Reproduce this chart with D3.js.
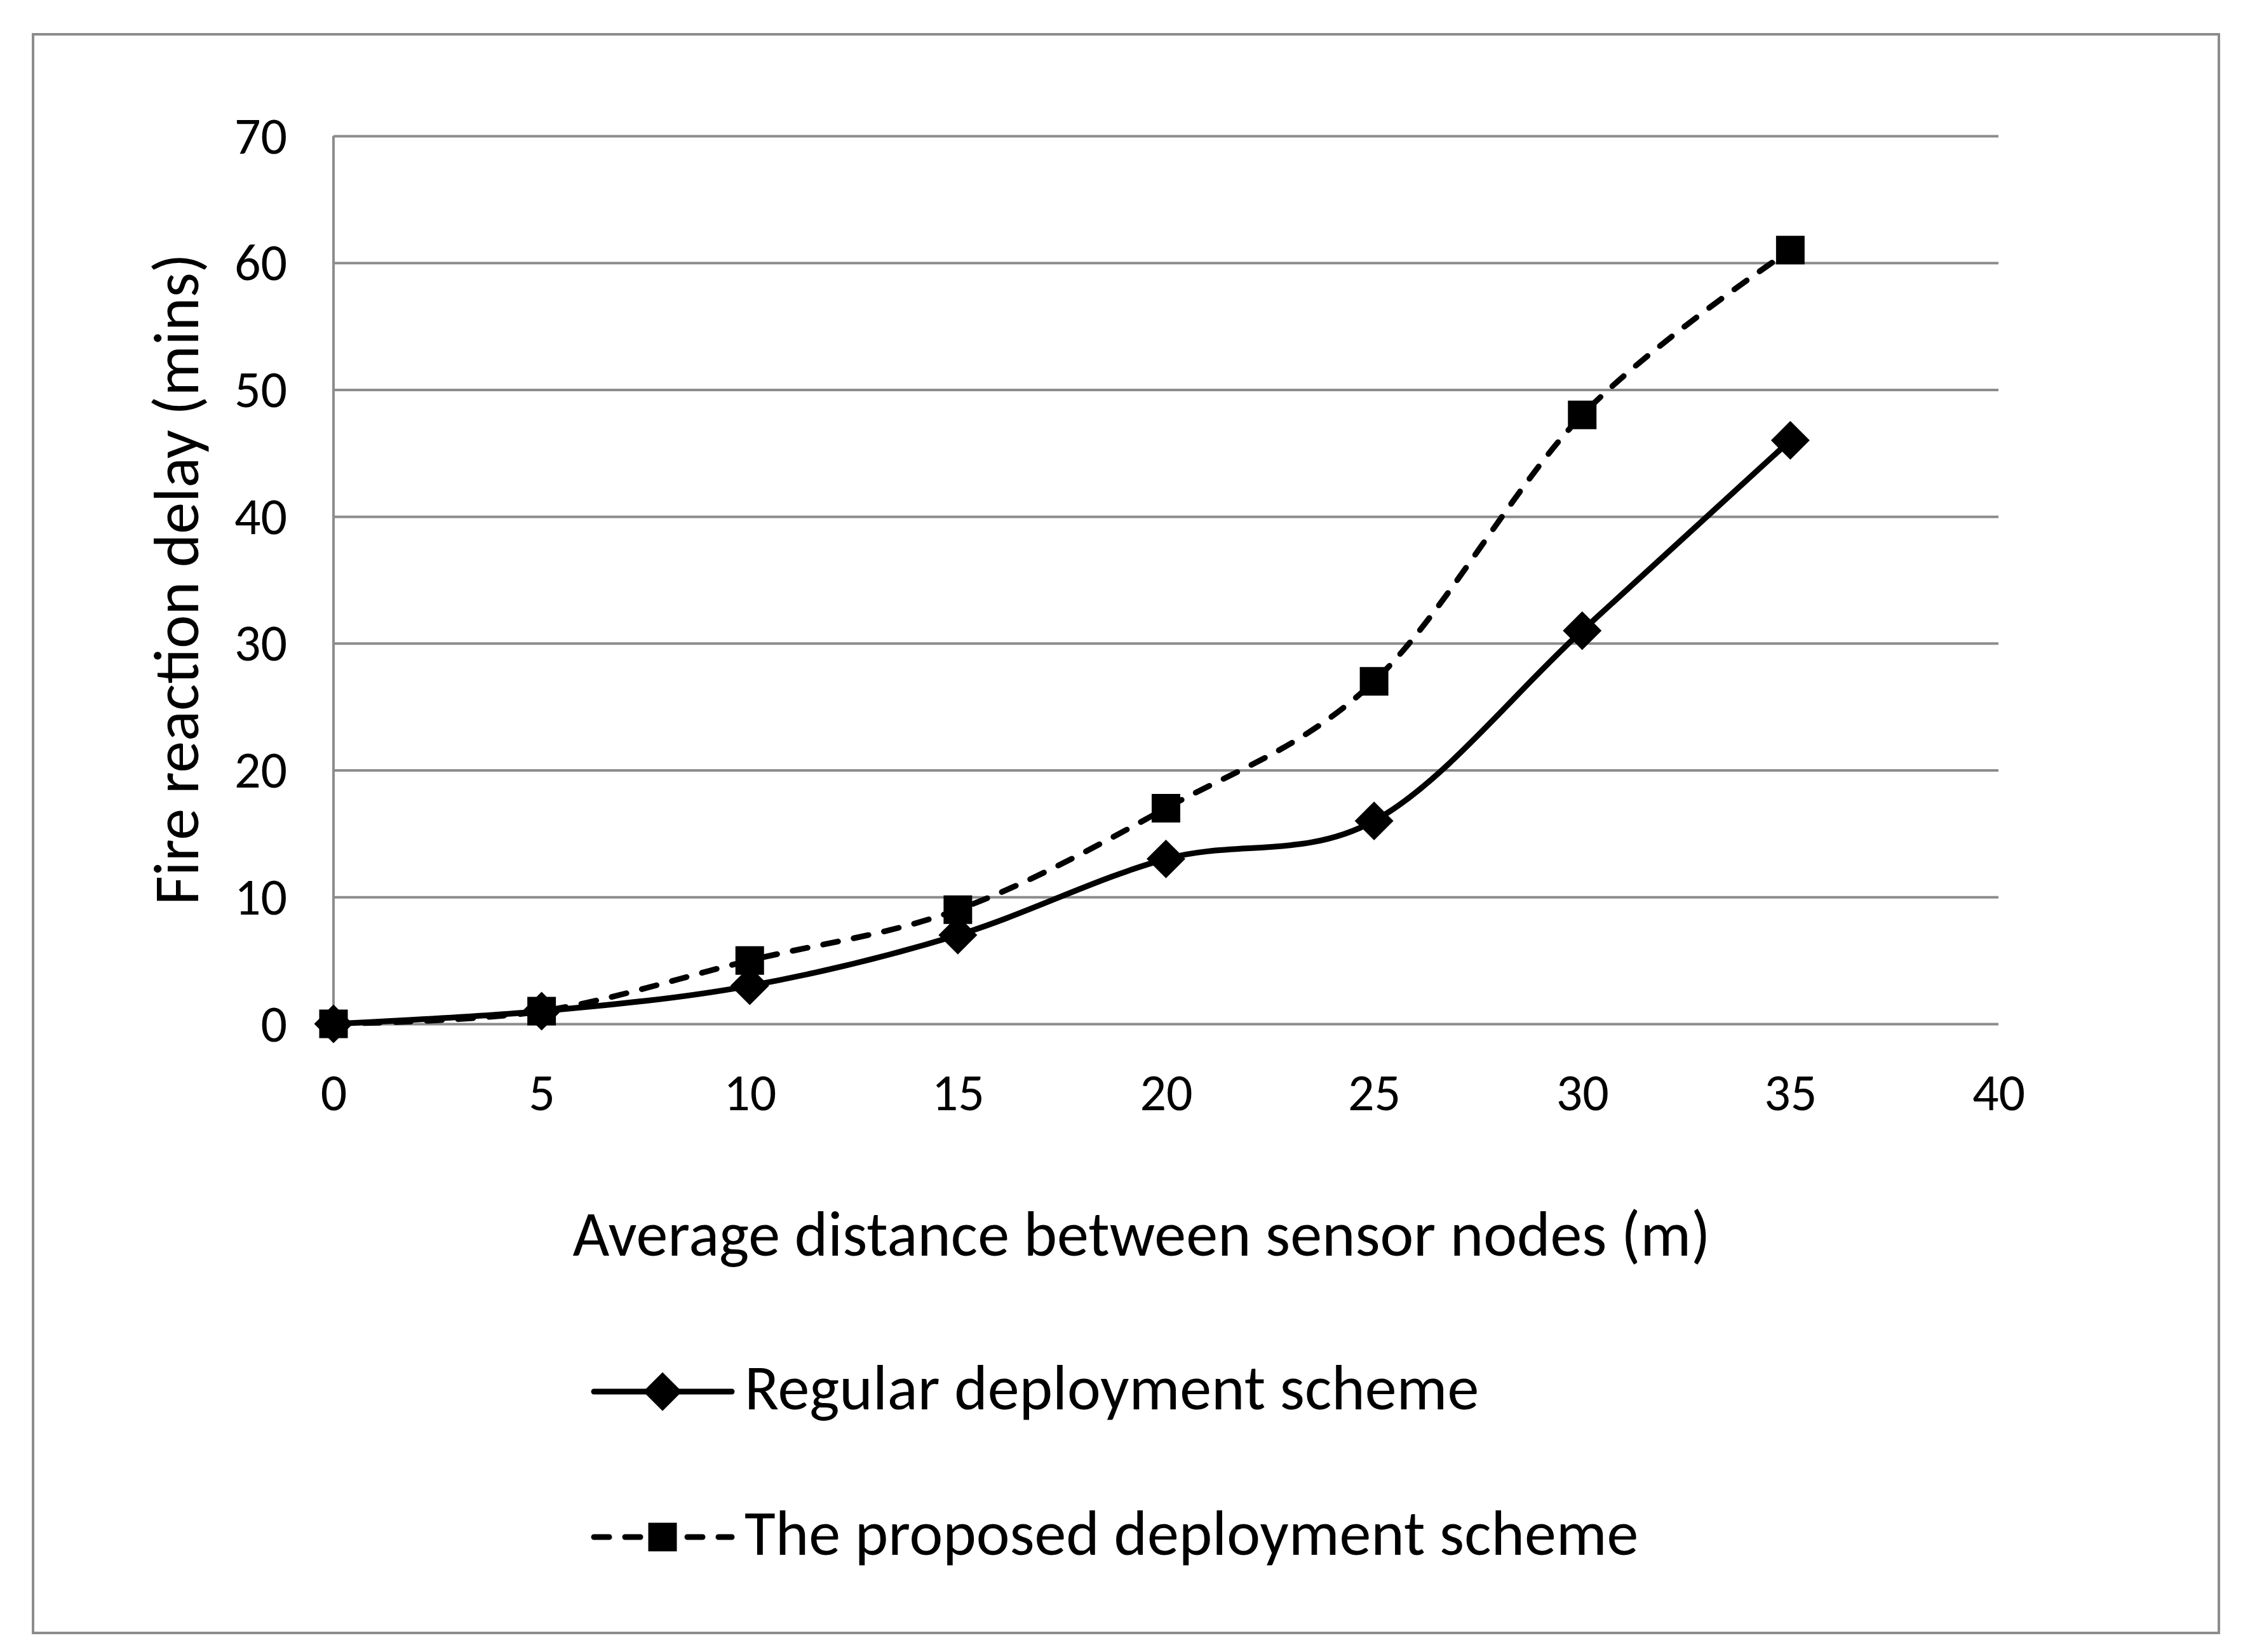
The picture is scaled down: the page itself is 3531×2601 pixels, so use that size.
<html>

<head>
    <script src="https://d3js.org/d3.v7.min.js"></script>
    <style>
        body { margin: 0; background: #fff; }
        text { font-family: Calibri, Carlito, "Open Sans", sans-serif; fill: #000; }
    </style>
</head>

<body>
    <svg id="svg" width="3531" height="2601"></svg>

    <script>
        // DATA
        const distances = [0, 5, 10, 15, 20, 25, 30, 35]
        const regular = [0, 1, 3, 7, 13, 16, 31, 46]
        const proposed = [0, 1, 5, 9, 17, 27, 48, 61]
        const xTicks = [0, 5, 10, 15, 20, 25, 30, 35, 40]
        const yTicks = [0, 10, 20, 30, 40, 50, 60, 70]
        const seriesNames = ["Regular deployment scheme", "The proposed deployment scheme"]
        const xTitle = "Average distance between sensor nodes (m)"
        const yTitle = "Fire reaction delay (mins)"

        // VARIABLES
        const grid = "#8c8c8c"
        const plot = { left: 525, right: 3146, top: 214, bottom: 1612 }
        const dash = "24 25"
        const tickFont = 82
        const titleFont = 100

        const svg = d3.select("#svg")

        const x = d3.scaleLinear().domain([0, 40]).range([plot.left, plot.right])
        const y = d3.scaleLinear().domain([0, 70]).range([plot.bottom, plot.top])

        // outer frame
        svg.append("rect")
            .attr("x", 52).attr("y", 54)
            .attr("width", 3441).attr("height", 2517)
            .attr("fill", "#fff")
            .attr("stroke", grid)
            .attr("stroke-width", 4)

        // gridlines + y axis
        const yAxis = d3.axisLeft(y).tickValues(yTicks)
            .tickSize(-(plot.right - plot.left))
            .tickPadding(73)
        svg.append("g")
            .attr("transform", `translate(${plot.left},0)`)
            .call(yAxis)
            .call(g => g.select(".domain").attr("stroke", grid).attr("stroke-width", 4).attr("d", `M0,${plot.top}V${plot.bottom}`))
            .call(g => g.selectAll(".tick line").attr("stroke", grid).attr("stroke-width", 4))
            .call(g => g.selectAll(".tick text").attr("font-size", tickFont).attr("font-family", null).attr("dy", "0.33em"))

        // x axis labels (no line, the 0 gridline acts as axis)
        const xAxis = d3.axisBottom(x).tickValues(xTicks).tickSize(0).tickPadding(0)
        svg.append("g")
            .attr("transform", `translate(0,${plot.bottom})`)
            .call(xAxis)
            .call(g => g.select(".domain").remove())
            .call(g => g.selectAll(".tick text").attr("font-size", tickFont).attr("font-family", null).attr("dy", null).attr("y", 136))

        // axis titles
        svg.append("text")
            .attr("x", 1797).attr("y", 1977)
            .attr("text-anchor", "middle")
            .attr("font-size", titleFont)
            .text(xTitle)

        svg.append("text")
            .attr("transform", "translate(312,912) rotate(-90)")
            .attr("text-anchor", "middle")
            .attr("font-size", titleFont)
            .text(yTitle)

        // lines
        const line = d3.line()
            .x((d, i) => x(distances[i]))
            .y(d => y(d))
            .curve(d3.curveCardinal.tension(0))

        const series = [
            { name: seriesNames[0], values: regular, symbol: "diamond", dash: null },
            { name: seriesNames[1], values: proposed, symbol: "square", dash: dash }
        ]

        const diamond = d3.symbol(d3.symbolSquare).size(1860)()
        const square = d3.symbol(d3.symbolSquare).size(2025)()
        const marker = (sel, type) => sel.append("path")
            .attr("d", type === "diamond" ? diamond : square)
            .attr("transform", type === "diamond" ? "rotate(45)" : null)
            .attr("fill", "#000")

        series.forEach(s => {
            svg.append("path")
                .attr("d", line(s.values))
                .attr("fill", "none")
                .attr("stroke", "#000")
                .attr("stroke-width", 9)
                .attr("stroke-linecap", "round")
                .attr("stroke-dasharray", s.dash)
        })

        series.forEach(s => {
            svg.append("g")
                .selectAll("g")
                .data(s.values)
                .join("g")
                .attr("transform", (d, i) => `translate(${x(distances[i])},${y(d)})`)
                .each(function () { marker(d3.select(this), s.symbol) })
        })

        // legend
        const legendY = [2191, 2420]
        series.forEach((s, i) => {
            const g = svg.append("g").attr("transform", `translate(0,${legendY[i]})`)
            g.append("line")
                .attr("x1", 935).attr("x2", 1152)
                .attr("stroke", "#000")
                .attr("stroke-width", 9)
                .attr("stroke-linecap", "round")
                .attr("stroke-dasharray", s.dash)
            g.append("g")
                .attr("transform", "translate(1043,0)")
                .call(sel => marker(sel, s.symbol))
            g.append("text")
                .attr("x", 1172).attr("y", 28)
                .attr("font-size", titleFont)
                .text(s.name)
        })
    </script>
</body>

</html>
